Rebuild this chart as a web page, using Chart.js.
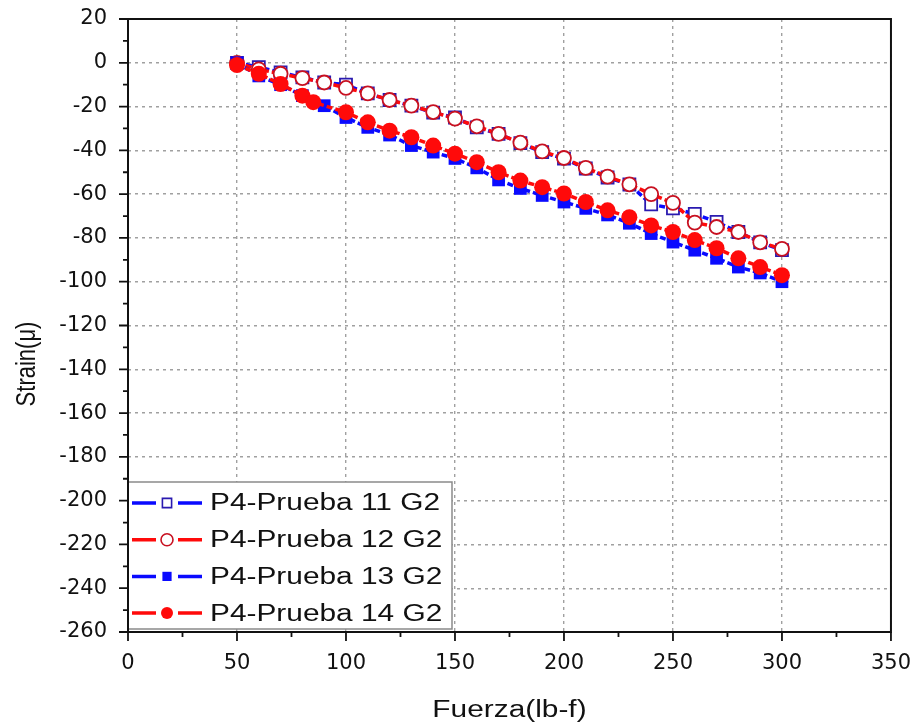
<!DOCTYPE html>
<html>
<head>
<meta charset="utf-8">
<script src="https://cdn.jsdelivr.net/npm/chart.js@4.4.0/dist/chart.umd.min.js"></script>
<style>
	html, body { margin: 0; padding: 0; background: #fff; }
</style>
</head>
<body>
<canvas id="strain-chart" width="913" height="728"></canvas>
<script>
// Load steps (lb-f); run 14 was logged at 85 instead of 90
var force = [50, 60, 70, 80, 90, 100, 110, 120, 130, 140, 150, 160, 170, 180, 190, 200, 210, 220, 230, 240, 250, 260, 270, 280, 290, 300];
var force14 = [50, 60, 70, 80, 85, 100, 110, 120, 130, 140, 150, 160, 170, 180, 190, 200, 210, 220, 230, 240, 250, 260, 270, 280, 290, 300];

// Strain readings (micro-strain)
var strain11 = [0, -2, -4.4, -6.7, -9, -10, -14, -17, -19.6, -22.8, -25, -29.5, -32.5, -36.7, -40.8, -43.8, -48.3, -52.4, -55.6, -64.7, -66.5, -69, -72.7, -77.3, -82, -85.6];
var strain12 = [0, -3, -5, -7, -9, -11.5, -14, -17, -19.6, -22.5, -25.5, -29, -32.5, -36.5, -40.5, -43.5, -48, -52, -55.5, -60, -64, -73, -75, -77.3, -82, -85];
var strain13 = [0, -6, -10, -15, -19.6, -25, -29.5, -33, -37.8, -40.8, -43.7, -48, -53.5, -57.4, -60.6, -63.6, -66.5, -69.5, -73.3, -78, -81.9, -85.6, -89.3, -93.3, -96, -100];
var strain14 = [-1, -5, -9.7, -15, -18, -22.6, -27.2, -31, -34, -37.8, -41.5, -45.4, -50, -53.8, -56.8, -59.7, -63.6, -67.4, -70.5, -74.3, -77.3, -81, -84.7, -89.3, -93.3, -97];

var seriesNames = ['P4-Prueba 11 G2', 'P4-Prueba 12 G2', 'P4-Prueba 13 G2', 'P4-Prueba 14 G2'];

// Axis ticks
var xTickValues = [0, 50, 100, 150, 200, 250, 300, 350];
var yTickValues = [20, 0, -20, -40, -60, -80, -100, -120, -140, -160, -180, -200, -220, -240, -260];

var BLUE = '#0a0aff';
var RED = '#ff0a0a';
var TEXT_STRETCH = 1.27;

function toPoints(xs, ys) {
	return xs.map(function(x, i) { return { x: x, y: ys[i] }; });
}

function makeTicks(values) {
	return function(scale) {
		scale.ticks = values.map(function(v) { return { value: v }; });
	};
}

// Arial-style text widened horizontally
function wideText(ctx, text, x, y, align) {
	ctx.save();
	ctx.translate(x, y);
	ctx.scale(TEXT_STRETCH, 1);
	ctx.textAlign = align;
	ctx.fillText(text, 0, 0);
	ctx.restore();
}

var datasets = [
	{
		label: seriesNames[0],
		data: toPoints(force, strain11),
		borderColor: BLUE,
		pointStyle: 'rect',
		pointRadius: 8.5,
		pointBorderWidth: 1.8,
		pointBorderColor: '#2a1ab0',
		pointBackgroundColor: '#ffffff',
		order: 4
	},
	{
		label: seriesNames[1],
		data: toPoints(force, strain12),
		borderColor: RED,
		pointStyle: 'circle',
		pointRadius: 7,
		pointBorderWidth: 1.8,
		pointBorderColor: '#c81020',
		pointBackgroundColor: '#ffffff',
		order: 3
	},
	{
		label: seriesNames[2],
		data: toPoints(force, strain13),
		borderColor: BLUE,
		pointStyle: 'rect',
		pointRadius: 9,
		pointBorderWidth: 0,
		pointBorderColor: BLUE,
		pointBackgroundColor: BLUE,
		order: 2
	},
	{
		label: seriesNames[3],
		data: toPoints(force14, strain14),
		borderColor: RED,
		pointStyle: 'circle',
		pointRadius: 8,
		pointBorderWidth: 0,
		pointBorderColor: RED,
		pointBackgroundColor: RED,
		order: 1
	}
];
datasets.forEach(function(ds) {
	ds.borderWidth = 3.5;
	ds.borderDash = [6, 3];
	ds.showLine = true;
	ds.fill = false;
	ds.tension = 0;
});

// Box, minor ticks, legend and axis titles
var decorations = {
	id: 'decorations',
	afterDraw: function(chart) {
		var ctx = chart.ctx;
		var a = chart.chartArea;
		var xs = chart.scales.x, ys = chart.scales.y;
		ctx.save();

		// tick marks
		ctx.strokeStyle = '#111';
		ctx.lineWidth = 1.8;
		ctx.beginPath();
		for (var v = -260; v <= 20; v += 10) {
			var py = ys.getPixelForValue(v);
			var len = (v % 20 === 0) ? 9 : 5;
			ctx.moveTo(a.left, py);
			ctx.lineTo(a.left - len, py);
		}
		for (var u = 0; u <= 350; u += 25) {
			var px = xs.getPixelForValue(u);
			var l2 = (u % 50 === 0) ? 9 : 5;
			ctx.moveTo(px, a.bottom);
			ctx.lineTo(px, a.bottom + l2);
		}
		ctx.stroke();

		// legend
		var lx = a.left, ly = a.bottom - 150, lw = 324, lh = 147;
		ctx.fillStyle = '#fff';
		ctx.fillRect(lx, ly, lw, lh);
		ctx.strokeStyle = '#8a8a8a';
		ctx.lineWidth = 1.5;
		ctx.strokeRect(lx, ly, lw, lh);
		ctx.font = '23.5px "Liberation Sans"';
		ctx.textBaseline = 'middle';
		datasets.forEach(function(ds, i) {
			var cy = ly + 21 + i * 36.7;
			ctx.strokeStyle = ds.borderColor;
			ctx.lineWidth = 3.5;
			ctx.beginPath();
			ctx.moveTo(lx + 4, cy); ctx.lineTo(lx + 28, cy);
			ctx.moveTo(lx + 50, cy); ctx.lineTo(lx + 74, cy);
			ctx.stroke();
			ctx.fillStyle = ds.pointBackgroundColor;
			ctx.strokeStyle = ds.pointBorderColor;
			ctx.lineWidth = 1.6;
			Chart.helpers.drawPoint(ctx, {
				pointStyle: ds.pointStyle,
				radius: ds.pointStyle === 'rect' ? 6.5 : 6,
				borderWidth: ds.pointBorderWidth,
				rotation: 0
			}, lx + 39, cy);
			ctx.fillStyle = '#111';
			wideText(ctx, ds.label, lx + 82, cy + 1, 'left');
		});

		// plot frame
		ctx.strokeStyle = '#111';
		ctx.lineWidth = 2;
		ctx.strokeRect(a.left, a.top, a.right - a.left, a.bottom - a.top);

		// axis titles
		ctx.fillStyle = '#111';
		ctx.textBaseline = 'middle';
		ctx.font = '23.5px "Liberation Sans"';
		wideText(ctx, 'Fuerza(lb-f)', (a.left + a.right) / 2, 711, 'center');
		ctx.translate(27, 364);
		ctx.scale(TEXT_STRETCH, 1);
		ctx.rotate(-Math.PI / 2);
		ctx.textAlign = 'center';
		ctx.font = '22px "Liberation Sans"';
		ctx.fillText('Strain(\u03bc)', 0, 0);
		ctx.restore();
	}
};

var ctx = document.getElementById('strain-chart');
var chart = new Chart(ctx, {
	type: 'scatter',
	data: { datasets: datasets },
	plugins: [decorations],
	options: {
		responsive: false,
		animation: false,
		devicePixelRatio: 1,
		layout: { padding: { top: 19, right: 22, left: 0, bottom: 0 } },
		plugins: {
			legend: { display: false },
			tooltip: { enabled: false }
		},
		scales: {
			x: {
				type: 'linear',
				min: 0,
				max: 350,
				afterBuildTicks: makeTicks(xTickValues),
				afterFit: function(scale) { scale.height = 96; },
				// tick marks themselves come from the decorations plugin
				grid: { color: '#a0a0a0', lineWidth: 1.4, drawTicks: true, tickLength: 17, tickColor: 'rgba(0,0,0,0)' },
				border: { display: false, dash: [3, 4] },
				ticks: { padding: 2, color: '#111', font: { family: 'DejaVu Sans', size: 21 }, maxRotation: 0 }
			},
			y: {
				type: 'linear',
				min: -260,
				max: 20,
				afterBuildTicks: makeTicks(yTickValues),
				afterFit: function(scale) { scale.width = 128; },
				grid: { color: '#a0a0a0', lineWidth: 1.4, drawTicks: true, tickLength: 19, tickColor: 'rgba(0,0,0,0)' },
				border: { display: false, dash: [3, 4] },
				ticks: { padding: 2, color: '#111', font: { family: 'DejaVu Sans', size: 21 } }
			}
		}
	}
});
</script>
</body>
</html>
